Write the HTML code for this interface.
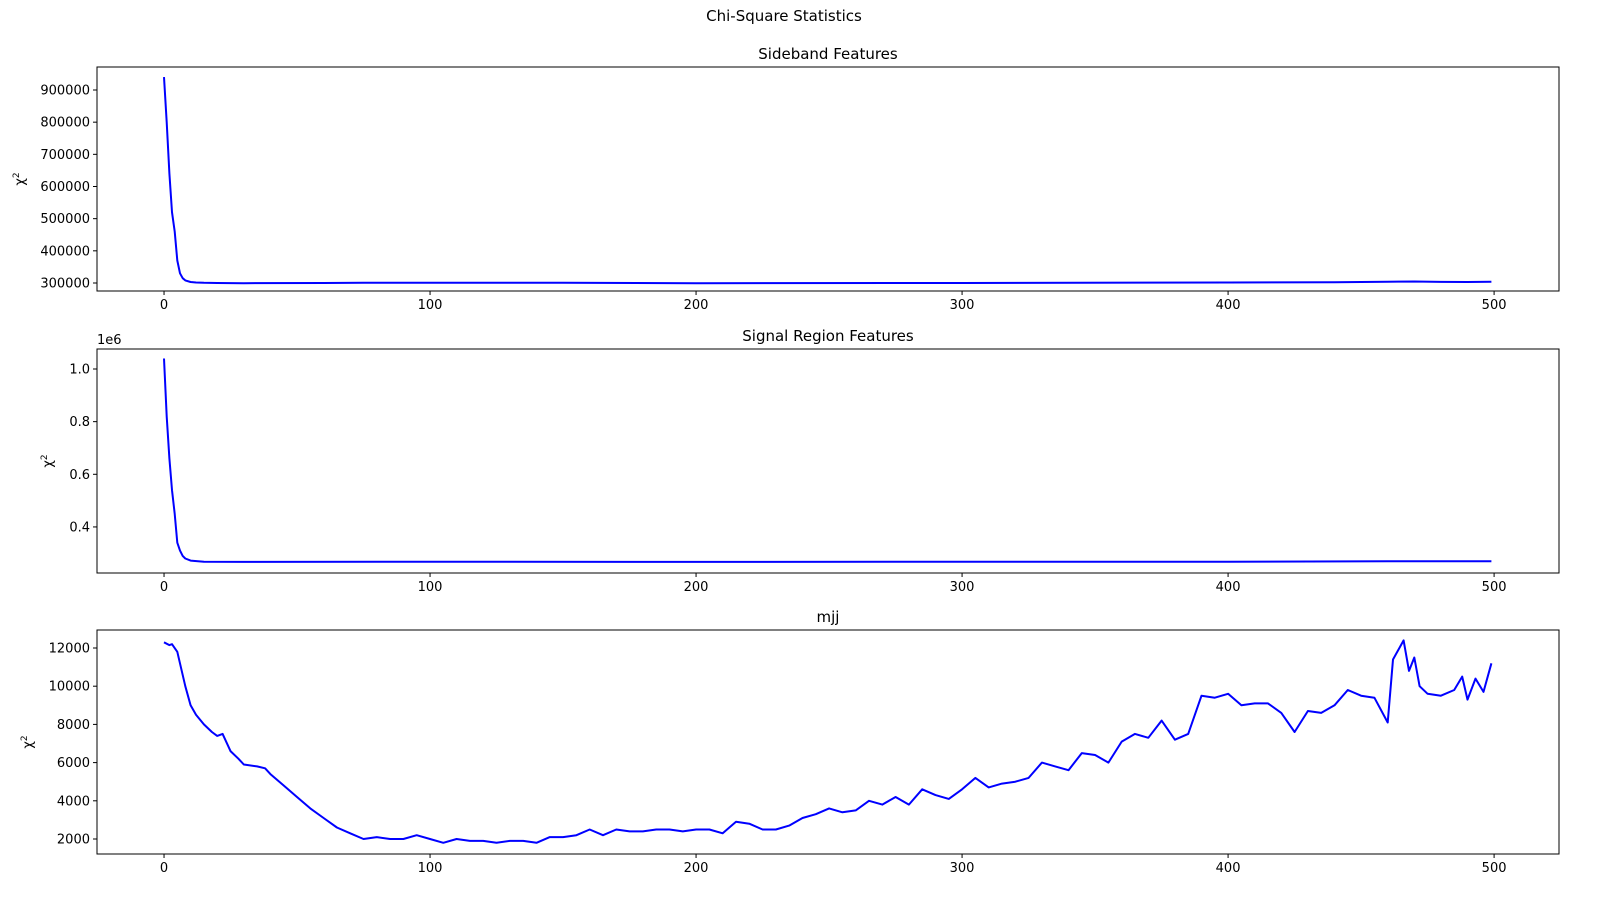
<!DOCTYPE html>
<html><head><meta charset="utf-8"><style>
html,body{margin:0;padding:0;background:#fff;}
svg text{font-family:"DejaVu Sans","Liberation Sans",sans-serif;fill:#000;}
</style></head><body>
<svg id="c" width="1611" height="911" xmlns="http://www.w3.org/2000/svg">
<text x="784" y="21" font-size="15" text-anchor="middle">Chi-Square Statistics</text>
</svg>
<script>
const xTicks=[0,100,200,300,400,500];
const sbX=[0,1,2,3,4,5,6,7,8,10,12,15,20,30,60,75,100,150,200,300,400,440,460,470,480,490,499];
const sbY=[940000,800000,640000,520000,460000,370000,330000,315000,308000,303000,301500,300500,300000,299500,300000,301000,301000,300500,299500,300000,301500,302000,304000,304500,303500,303000,304000];
const sbTicks=[300000,400000,500000,600000,700000,800000,900000];
const srX=[0,1,2,3,4,5,6,7,8,10,15,30,100,200,300,400,460,499];
const srY=[1.04,0.82,0.66,0.54,0.45,0.34,0.31,0.29,0.28,0.272,0.268,0.267,0.268,0.267,0.268,0.268,0.270,0.270];
const srTicks=[0.4,0.6,0.8,1.0];
const mjX=[0,2,3,5,8,10,12,15,18,20,22,25,28,30,35,38,40,45,50,55,60,65,70,75,80,85,90,95,100,105,110,115,120,125,130,135,140,145,150,155,160,165,170,175,180,185,190,195,200,205,210,215,220,225,230,235,240,245,250,255,260,265,270,275,280,285,290,295,300,305,310,315,320,325,330,335,340,345,350,355,360,365,370,375,380,385,390,395,400,405,410,415,420,425,430,435,440,445,450,455,460,462,466,468,470,472,475,480,485,488,490,493,496,499];
const mjY=[12300,12150,12200,11800,10000,9000,8500,8000,7600,7400,7500,6600,6200,5900,5800,5700,5400,4800,4200,3600,3100,2600,2300,2000,2100,2000,2000,2200,2000,1800,2000,1900,1900,1800,1900,1900,1800,2100,2100,2200,2500,2200,2500,2400,2400,2500,2500,2400,2500,2500,2300,2900,2800,2500,2500,2700,3100,3300,3600,3400,3500,4000,3800,4200,3800,4600,4300,4100,4600,5200,4700,4900,5000,5200,6000,5800,5600,6500,6400,6000,7100,7500,7300,8200,7200,7500,9500,9400,9600,9000,9100,9100,8600,7600,8700,8600,9000,9800,9500,9400,8100,11400,12400,10800,11500,10000,9600,9500,9800,10500,9300,10400,9700,11200];
const mjTicks=[2000,4000,6000,8000,10000,12000];

const svg=document.getElementById('c');
const NS='http://www.w3.org/2000/svg';
function mk(tag,attrs,parent){const e=document.createElementNS(NS,tag);for(const k in attrs)e.setAttribute(k,attrs[k]);(parent||svg).appendChild(e);return e;}
const L=97,R=1559,xmin=-25.2,xmax=524.4;
function sx(v){return L+(v-xmin)/(xmax-xmin)*(R-L);}
function panel(name,title,top,bot,ymin,ymax,xs,ys,ticks,fmt,offset){
  const g=mk('g',{});
  
  
  const sy=v=>bot-(v-ymin)/(ymax-ymin)*(bot-top);
  let d='';
  xs.forEach((x,i)=>{d+=(i?'L':'M')+sx(x).toFixed(1)+','+sy(ys[i]).toFixed(1);});
  const p=mk('path',{d:d,fill:'none',stroke:'#0000ff','stroke-width':2,'stroke-linejoin':'round'},g);
  
  
  const fr=mk('rect',{x:L,y:top,width:R-L,height:bot-top,fill:'none',stroke:'#000','stroke-width':1},g);
  
  
  xTicks.forEach(t=>{const x=sx(t);mk('line',{x1:x,x2:x,y1:bot,y2:bot+4,stroke:'#000'},g);
    const tx=mk('text',{x:x,y:bot+18,'font-size':13,'text-anchor':'middle'},g);tx.textContent=t;
    
    });
  ticks.forEach(t=>{const y=sy(t);mk('line',{x1:L-4,x2:L,y1:y,y2:y,stroke:'#000'},g);
    const tx=mk('text',{x:L-7,y:y+4.5,'font-size':13,'text-anchor':'end'},g);tx.textContent=fmt(t);
    
    });
  const tt=mk('text',{x:(L+R)/2,y:top-8,'font-size':15,'text-anchor':'middle'},g);tt.textContent=title;
  
  
  const yl=mk('text',{x:0,y:0,'font-size':13,'text-anchor':'middle',transform:'translate('+(offset)+','+((top+bot)/2)+') rotate(-90)'},g);
  yl.innerHTML='χ<tspan dy="-5" font-size="9">2</tspan>';
  
  
  return g;
}
panel('sideband','Sideband Features',67,291,275100,971500,sbX,sbY,sbTicks,t=>String(t),24);
const g2=panel('signal-region','Signal Region Features',349,573,0.225,1.076,srX,srY,srTicks,t=>t.toFixed(1),52);
const off=mk('text',{x:97,y:344,'font-size':13},g2);off.textContent='1e6';


panel('mjj','mjj',630,854,1215,12942,mjX,mjY,mjTicks,t=>String(t),32);
</script>
</body></html>
